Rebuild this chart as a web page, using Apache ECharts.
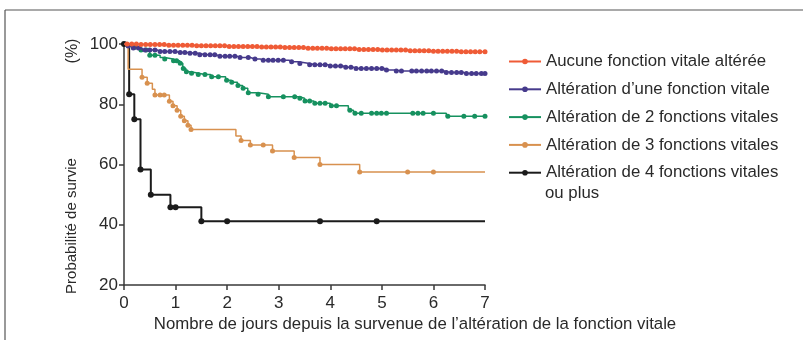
<!DOCTYPE html>
<html><head><meta charset="utf-8">
<script src="https://cdn.jsdelivr.net/npm/echarts@6/dist/echarts.min.js"></script>
<style>html,body{margin:0;padding:0;background:#fff}#c{width:803px;height:340px}</style>
</head><body><div id="c"></div>
<script>
const seriesNames = [
  "Aucune fonction vitale altérée",
  "Altération d\u2019une fonction vitale",
  "Altération de 2 fonctions vitales",
  "Altération de 3 fonctions vitales",
  "Altération de 4 fonctions vitales ou plus"
];
const seriesColors = ["#ef5b36", "#463a8c", "#16915f", "#d8914f", "#1b1b1b"];
const xTicks = [0,1,2,3,4,5,6,7];
const yTicks = [20,40,60,80,100];
const xAxisTitle = "Nombre de jours depuis la survenue de l\u2019altération de la fonction vitale";
const yAxisTitle = "Probabilité de survie";
const yAxisUnit = "(%)";
const endDay = 7;

// Red: no vital function altered
const redTimes = [0.3,0.8,1.4,2.0,2.6,3.1,3.5,4.0,4.5,5.0,5.5,6.0,6.5];
const redSurv  = [99.8,99.6,99.4,99.2,99.0,98.8,98.6,98.4,98.2,98.0,97.8,97.6,97.4];
const redCensor = [0.06,0.15,0.24,0.33,0.42,0.51,0.6,0.69,0.78,0.87,0.96,1.05,1.14,1.23,1.32,1.41,1.5,1.59,1.68,1.77,1.86,1.95,2.04,2.13,2.22,2.31,2.4,2.49,2.58,2.67,2.76,2.85,2.94,3.03,3.12,3.21,3.3,3.39,3.48,3.57,3.66,3.75,3.84,3.93,4.02,4.11,4.2,4.29,4.38,4.47,4.56,4.65,4.74,4.83,4.92,5.01,5.1,5.19,5.28,5.37,5.46,5.55,5.64,5.73,5.82,5.91,6.0,6.09,6.18,6.27,6.36,6.45,6.54,6.63,6.72,6.81,6.9,7.0];

// Blue: one vital function altered
const blueTimes = [0.05,0.15,0.35,0.65,1.0,1.25,1.45,1.8,2.2,2.45,2.65,3.2,3.38,3.6,3.95,4.25,4.45,5.05,5.25,6.22,6.6];
const blueSurv  = [99.3,98.7,98.0,97.5,97.2,96.9,96.4,95.9,95.5,95.0,94.6,94.1,93.5,93.1,92.7,92.3,91.9,91.4,91.0,90.5,90.2];
const blueCensor = [0.08,0.18,0.28,0.41,0.5,0.6,0.7,0.79,0.89,0.99,1.09,1.18,1.28,1.38,1.47,1.57,1.67,1.76,1.86,1.96,2.05,2.15,2.25,2.41,2.54,2.7,2.8,2.89,2.99,3.09,3.25,3.41,3.6,3.7,3.8,3.9,4.0,4.1,4.2,4.3,4.4,4.5,4.6,4.7,4.8,4.9,5.0,5.09,5.28,5.38,5.58,5.67,5.77,5.87,5.96,6.06,6.16,6.25,6.35,6.45,6.54,6.64,6.74,6.83,6.93,7.0];

// Green: two vital functions altered
const greenTimes = [0.1,0.2,0.33,0.45,0.5,0.7,0.79,0.95,1.08,1.14,1.2,1.3,1.44,1.68,1.97,2.08,2.2,2.3,2.4,2.6,2.8,3.4,3.5,3.68,4.0,4.35,4.45,6.25];
const greenSurv  = [99.2,98.8,98.0,97.5,96.3,95.5,95.0,94.4,93.6,91.9,90.8,90.3,89.9,89.1,88.0,87.3,86.2,85.3,83.8,83.3,82.5,82.0,81.1,80.3,79.5,78.0,77.0,76.0];
const greenCensor = [0.2,0.33,0.43,0.5,0.6,0.79,0.96,1.02,1.09,1.15,1.21,1.31,1.44,1.57,1.7,1.83,1.99,2.09,2.21,2.31,2.41,2.6,2.8,3.09,3.31,3.41,3.51,3.6,3.7,3.8,3.9,4.02,4.12,4.38,4.48,4.6,4.8,4.9,4.99,5.09,5.6,5.7,5.8,6.0,6.28,6.59,6.8,7.0];

// Orange: three vital functions altered
const orangeTimes = [0.08,0.35,0.45,0.55,0.6,0.88,0.95,1.03,1.1,1.17,1.24,1.3,2.17,2.27,2.45,2.88,3.3,3.8,4.57];
const orangeSurv  = [91.6,89.0,87.0,85.0,83.1,81.0,79.5,78.0,76.0,74.5,73.0,71.6,69.5,68.0,66.5,64.5,62.3,60.0,57.5];
const orangeCensor = [0.35,0.45,0.6,0.7,0.78,0.88,0.95,1.03,1.1,1.17,1.24,1.3,2.27,2.45,2.7,2.88,3.3,3.8,4.57,5.5,6.0];

// Black: four or more vital functions altered
const blackTimes = [0.1,0.2,0.32,0.52,0.9,1.5];
const blackSurv  = [83.3,75.0,58.3,50.0,45.8,41.2];
const blackCensor = [0,0.1,0.2,0.32,0.52,0.9,1.0,1.5,2.0,3.8,4.9];

function survAt(times, surv, t){
  let v = 100;
  for (let i=0;i<times.length;i++){ if (times[i] <= t + 1e-9) v = surv[i]; }
  return v;
}
function buildData(times, surv, censor){
  const pts = [{value:[0,100], symbol:'none', k:0, t:0}];
  times.forEach((t,i)=>pts.push({value:[t,surv[i]], symbol:'none', k:0, t:t}));
  pts.push({value:[endDay, surv[surv.length-1]], symbol:'none', k:0, t:endDay});
  censor.forEach(t=>pts.push({value:[t, survAt(times,surv,t)], symbol:'circle', k:1, t:t}));
  pts.sort((a,b)=> a.t-b.t || a.k-b.k);
  return pts.map(p=>({value:p.value, symbol:p.symbol}));
}
const groups = [
  [redTimes, redSurv, redCensor],
  [blueTimes, blueSurv, blueCensor],
  [greenTimes, greenSurv, greenCensor],
  [orangeTimes, orangeSurv, orangeCensor],
  [blackTimes, blackSurv, blackCensor]
];

const chart = echarts.init(document.getElementById('c'), null, {renderer:'canvas'});
const font = "'Liberation Sans', Arial, sans-serif";
const txt = "#2a2a2a";
chart.setOption({
  animation:false,
  backgroundColor:'#fff',
  textStyle:{fontFamily:font},
  grid:{left:124, right:318, top:44, bottom:55, containLabel:false},
  xAxis:{type:'value', min:0, max:7, interval:1,
    axisLine:{lineStyle:{color:'#3a3a3a', width:1.5}},
    axisTick:{show:true, length:5, lineStyle:{color:'#3a3a3a', width:1.5}},
    axisLabel:{fontSize:17, color:txt, margin:10, fontFamily:font, formatter:v=>String(xTicks[v])},
    splitLine:{show:false}},
  yAxis:{type:'value', min:20, max:100, interval:20,
    axisLine:{show:true, lineStyle:{color:'#3a3a3a', width:1.5}},
    axisTick:{show:true, length:5, lineStyle:{color:'#3a3a3a', width:1.5}},
    axisLabel:{fontSize:17, color:txt, margin:6, fontFamily:font, formatter:v=>yTicks.includes(v)?String(v):''},
    splitLine:{show:false}},
  legend:{orient:'vertical', left:508, top:53, itemWidth:32, itemHeight:7, itemGap:10.8,
    padding:[0,0,0,0],
    textStyle:{fontSize:16.8, color:txt, fontFamily:font, lineHeight:17},
    formatter: n => n.replace(' ou plus',''),
    data: seriesNames},
  graphic:[
    {type:'line', shape:{x1:5,y1:10,x2:803,y2:10}, style:{stroke:'#555', lineWidth:1.2}},
    {type:'line', shape:{x1:5,y1:10,x2:5,y2:340}, style:{stroke:'#555', lineWidth:1.2}},
    {type:'text', x:72, y:226, rotation:Math.PI/2, style:{text:yAxisTitle, fill:txt, font:"15px "+font, align:'center', verticalAlign:'middle'}},
    {type:'text', x:73, y:51, rotation:Math.PI/2, style:{text:yAxisUnit, fill:txt, font:"16px "+font, align:'center', verticalAlign:'middle'}},
    {type:'text', x:415, y:324, style:{text:xAxisTitle, fill:txt, font:"16.8px "+font, align:'center', verticalAlign:'middle'}},
    {type:'text', x:545, y:193, style:{text:'ou plus', fill:txt, font:"16.8px "+font, align:'left', verticalAlign:'middle'}}
  ],
  series: groups.map((g,i)=>({
    name: seriesNames[i], type:'line', step:'end',
    symbol:'circle', symbolSize: i===4?6:5, showAllSymbol:true,
    lineStyle:{color:seriesColors[i], width: i===4?2:1.5},
    itemStyle:{color:seriesColors[i]},
    z: 10 - i,
    data: buildData(g[0], g[1], g[2])
  }))
});
</script></body></html>
